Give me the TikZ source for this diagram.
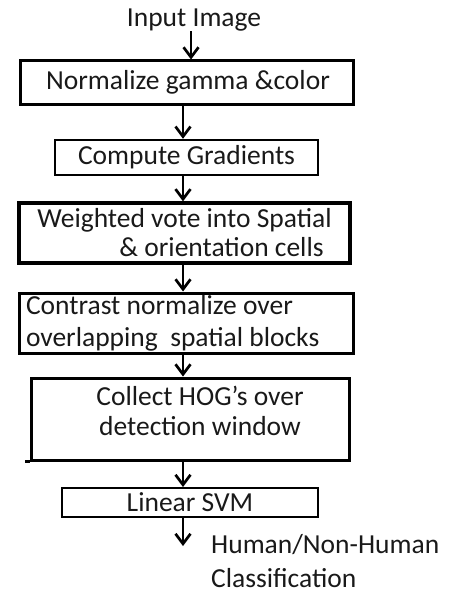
\documentclass[tikz,border=0pt]{standalone}
\usepackage{fontspec}
\setmainfont{Carlito}
\usetikzlibrary{arrows.meta}
\begin{document}
\begin{tikzpicture}[x=1pt,y=-1pt,
  every node/.style={font=\fontsize{27.5}{29}\selectfont, text=black!90, inner sep=0pt},
  stepbox/.style={draw=black, line width=#1, minimum width=0pt, minimum height=0pt},
  arr/.style={line width=2.7pt, -{Straight Barb[length=10pt,width=15pt,line width=2.7pt]}}
]
\useasboundingbox (0,0) rectangle (457,594);
\coordinate (colx) at (183,0);
% title
\node (in) at (194,20) {Input Image};
% boxes
\node[stepbox=3pt, minimum width=333pt, minimum height=43pt] (b1) at (186.5,82.5) {\raisebox{-5pt}{\hspace*{3pt}Normalize gamma \&color}};
\node[stepbox=2.4pt, minimum width=263pt, minimum height=35pt] (b2) at (186.5,157.5) {\raisebox{-1pt}{Compute Gradients}};
\node[stepbox=3.3pt, minimum width=331pt, minimum height=60pt, align=right] (b3) at (184.5,233) {Weighted vote into Spatial\\\&~orientation cells\hspace*{8pt}};
\node[stepbox=3pt, minimum width=334pt, minimum height=60pt, text width=320pt, align=flush left] (b4) at (186,323) {\vspace*{3pt}Contrast normalize over\\overlapping~ spatial blocks};
\node[stepbox=3pt, minimum width=318pt, minimum height=82pt] (b5) at (190,419) {};
\node[align=center, font=\fontsize{27.5}{30}\selectfont] (b5t) at (200,411) {Collect HOG’s over\\detection window};
\node[stepbox=2pt, minimum width=256pt, minimum height=29pt] (b6) at (190,502.5) {\raisebox{-2pt}{Linear SVM}};
\coordinate (end) at (183,546);
\node[anchor=base west, align=left, font=\fontsize{27.5}{34}\selectfont] (out) at (211,587) {Human/Non-Human\\Classification};
% scan artefact: bottom line of box 5 runs a little to the left
\draw[line width=3pt] (b5.south west) -- ++(-5,0);
% arrows
\draw[arr] (in.south -| 191,0) -- (b1.north -| 191,0);
\draw[arr] (b1.south -| colx) -- (b2.north -| colx);
\draw[arr] (b2.south -| colx) -- (b3.north -| colx);
\draw[arr] (b3.south -| colx) -- (b4.north -| colx);
\draw[arr] (b4.south -| colx) -- (b5.north -| colx);
\draw[arr] (b5.south -| colx) -- (b6.north -| colx);
\draw[arr] (b6.south -| colx) -- (end);
\end{tikzpicture}
\end{document}
